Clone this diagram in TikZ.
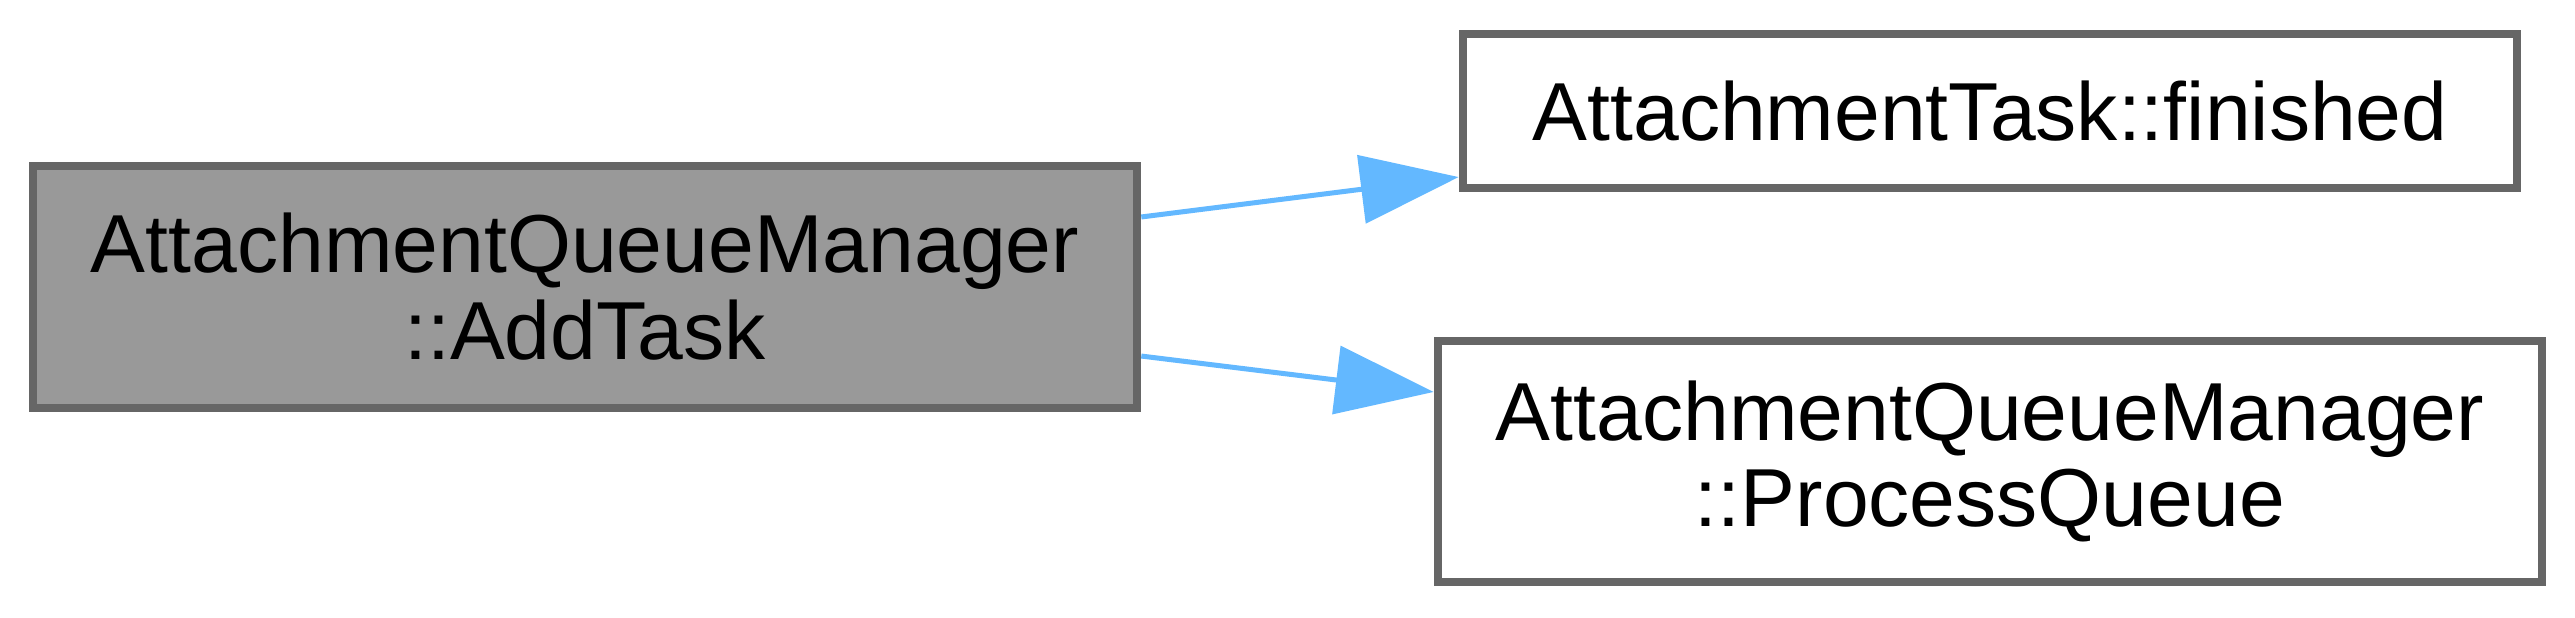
\documentclass[tikz,border=0pt]{standalone}
\usepackage{fontspec}
\setmainfont{Liberation Sans}
\definecolor{BoxGrey}{RGB}{102,102,102}
\definecolor{MainFill}{RGB}{153,153,153}
\definecolor{EdgeBlue}{RGB}{99,184,255}
\usetikzlibrary{arrows.meta,positioning}

\begin{document}
\begin{tikzpicture}[x=0.01cm,y=-0.01cm,
  fnbox/.style={draw=BoxGrey,line width=0.08cm,fill=white,inner sep=0pt,align=center,font=\fontsize{23.4}{24.7}\selectfont},
  calledge/.style={EdgeBlue,line width=0.05cm,-{Triangle[length=0.98cm,width=0.68cm]}}]
\useasboundingbox (0,0) rectangle (2575,617);
\node[fnbox,fill=MainFill,minimum width=11.04cm,minimum height=2.42cm] (addtask) at (585,287) {AttachmentQueueManager\\::AddTask};
\node[fnbox,minimum width=10.54cm,minimum height=1.54cm] (finished) at (1990,111) {AttachmentTask::finished};
\node[fnbox,minimum width=11.04cm,minimum height=2.41cm] (procqueue) at (1990,461.5) {AttachmentQueueManager\\::ProcessQueue};
\draw[calledge] ([yshift=0.7cm]addtask.east) -- ([yshift=-0.66cm]finished.west);
\draw[calledge] ([yshift=-0.69cm]addtask.east) -- ([yshift=0.695cm]procqueue.west);
\end{tikzpicture}
\end{document}
